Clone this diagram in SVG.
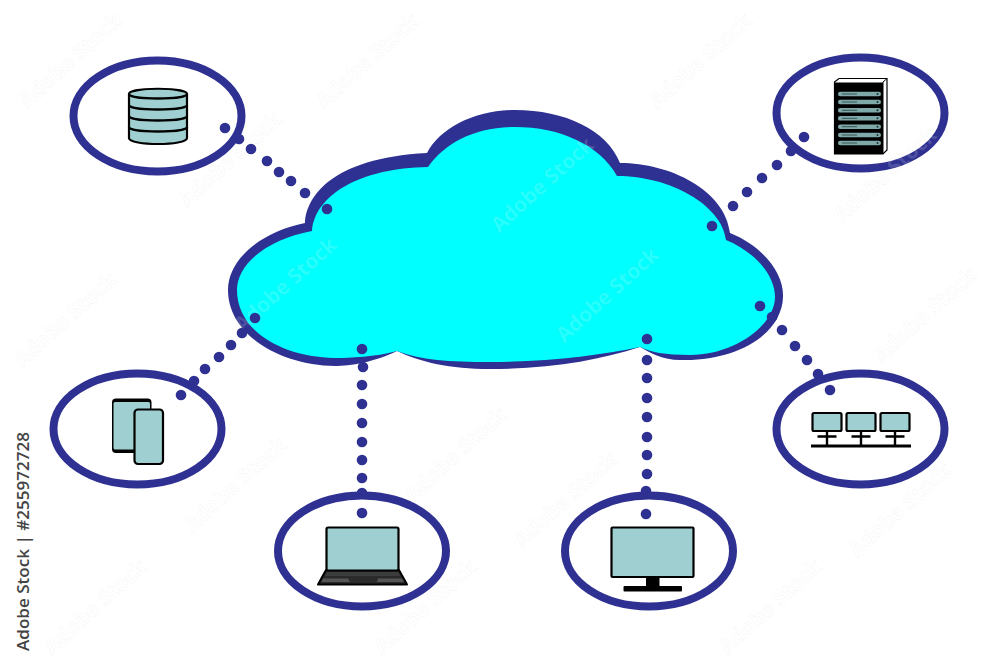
<svg xmlns="http://www.w3.org/2000/svg" width="1000" height="667" viewBox="0 0 1000 667">
<style>
.ring{fill:#fff;stroke:#2e3192;stroke-width:8}
.dot{fill:#2e3192}
.ic{fill:#9fcfd0;stroke:#000;stroke-width:2.200;stroke-linejoin:round}
.k{fill:#000}
.ln{stroke:#000;fill:none}
.slot{fill:#7fa8a8}
.stamp{font-family:"Open Sans","Liberation Sans",sans-serif;font-size:16px;font-weight:600;fill:#444}
.wm{font-family:"Open Sans","Liberation Sans",sans-serif;font-size:21px;font-weight:700;fill:#fff;fill-opacity:.16;stroke:#777;stroke-opacity:.06;stroke-width:1;text-anchor:middle}
</style>
<defs>
<circle id="d" r="5.300" class="dot"/>
<g id="scr">
<rect x="0" y="0" width="29" height="18" rx="1.500" class="ic"/>
<path d="M14.500 18V33M5 23.500H24" class="ln" stroke-width="2.400"/>
</g>
<g id="sl">
<rect x="838" y="0" width="43" height="4.600" rx="2.200" class="slot"/>
<path d="M842 2.300H857" stroke="#3d5556" stroke-width="1"/>
<circle cx="877.500" cy="2.300" r="1" fill="#203030"/>
</g>
</defs>
<rect width="1000" height="667" fill="#fff"/>
<g id="node-database">
<ellipse class="ring" cx="157.500" cy="116" rx="84" ry="55.500"/>
<path class="ic" d="M129 94C129 87 187 87 187 94V138C187 146 129 146 129 138Z"/>
<path class="ln" stroke-width="2.400" d="M129 94C129 100 187 100 187 94M129 105C129 111 187 111 187 105M129 116C129 122 187 122 187 116M129 127C129 133 187 133 187 127"/>
</g>
<g id="node-server">
<ellipse class="ring" cx="860.500" cy="113" rx="84" ry="55.500"/>
<path d="M834.500 82L839 78.500H887V150L883 154H834.500Z" fill="#fff" stroke="#000" stroke-width="1.200"/>
<path d="M883 82V154M883 82L887 78.500" stroke="#000" stroke-width="1"/>
<rect x="834.500" y="82.500" width="48.500" height="71.500" fill="#000"/>
<use href="#sl" y="91.700"/><use href="#sl" y="99.700"/><use href="#sl" y="108"/><use href="#sl" y="116"/><use href="#sl" y="124.400"/><use href="#sl" y="132.700"/><use href="#sl" y="140.700"/>
</g>
<g id="node-network">
<ellipse class="ring" cx="860.500" cy="429" rx="84" ry="55.500"/>
<use href="#scr" x="812.500" y="413"/><use href="#scr" x="846.500" y="413"/><use href="#scr" x="880.500" y="413"/>
<path d="M811 446H911" class="ln" stroke-width="2.800"/>
</g>
<g id="node-laptop">
<ellipse class="ring" cx="362" cy="551" rx="84" ry="55.500"/>
<path d="M326 570L318 584.500H407L399 570Z" fill="#2b2b2b" stroke="#000" stroke-width="2" stroke-linejoin="round"/>
<path d="M323 578.500H348L350 582H321.500ZM378 578.500H402L404 582H377Z" fill="#555"/>
<path d="M327 572H398L400 576H325Z" fill="#3c3c3c"/>
<rect x="326.500" y="527.500" width="72" height="43" rx="1.500" class="ic"/>
</g>
<g id="node-monitor">
<ellipse class="ring" cx="649" cy="551" rx="84" ry="55.500"/>
<rect x="646" y="577" width="13.500" height="10" class="k"/>
<rect x="623.500" y="586" width="58.500" height="5.500" rx="1" class="k"/>
<rect x="611.500" y="527.500" width="82" height="49.500" rx="1" class="ic"/>
</g>
<g id="node-phones">
<ellipse class="ring" cx="137.500" cy="429" rx="84" ry="55.500"/>
<rect x="112" y="398.500" width="39.500" height="54.500" rx="4" fill="#000"/>
<rect x="113.500" y="402" width="36.500" height="47.500" rx="1.500" fill="#9fcfd0"/>
<rect x="134.500" y="409.500" width="28.500" height="54.500" rx="3.500" class="ic"/>
</g>
<g id="node-cloud">
<path fill="#2e3192" d="M305 223C306 198 330 158 427 153C440 128 475 110 515 110C565 110 607 130 620 163C670 163 725 190 730 233C765 247 784 275 783 297C782 335 735 362 680 360C663 360 650 353 640 347C600 360 550 369 490 369C450 369 420 362 397 351C375 362 350 366 335 366C280 365 228 335 228 290C228 260 260 232 305 223Z"/>
<path fill="#00ffff" d="M312 231C315 195 360 168 428 167C445 143 475 127 515 127C560 127 600 145 617 176C670 176 722 205 726 240C755 252 775 275 775 297C775 325 735 355 690 355C665 355 650 352 640 347C600 355 550 362 490 362C450 362 420 360 397 351C375 357 350 358 335 358C280 357 237 330 237 290C237 265 265 240 312 231Z"/>
</g>
<g id="watermark">
<text class="wm" transform="translate(75 66) rotate(-42)">Adobe Stock</text>
<text class="wm" transform="translate(372 66) rotate(-42)">Adobe Stock</text>
<text class="wm" transform="translate(705 66) rotate(-42)">Adobe Stock</text>
<text class="wm" transform="translate(235 165) rotate(-42)">Adobe Stock</text>
<text class="wm" transform="translate(547 190) rotate(-42)">Adobe Stock</text>
<text class="wm" transform="translate(890 180) rotate(-42)">Adobe Stock</text>
<text class="wm" transform="translate(70 325) rotate(-42)">Adobe Stock</text>
<text class="wm" transform="translate(290 290) rotate(-42)">Adobe Stock</text>
<text class="wm" transform="translate(612 300) rotate(-42)">Adobe Stock</text>
<text class="wm" transform="translate(930 320) rotate(-42)">Adobe Stock</text>
<text class="wm" transform="translate(460 460) rotate(-42)">Adobe Stock</text>
<text class="wm" transform="translate(240 490) rotate(-42)">Adobe Stock</text>
<text class="wm" transform="translate(570 505) rotate(-42)">Adobe Stock</text>
<text class="wm" transform="translate(905 515) rotate(-42)">Adobe Stock</text>
<text class="wm" transform="translate(100 612) rotate(-42)">Adobe Stock</text>
<text class="wm" transform="translate(430 612) rotate(-42)">Adobe Stock</text>
<text class="wm" transform="translate(775 612) rotate(-42)">Adobe Stock</text>
</g>
<g id="connectors">
<use href="#d" x="225" y="128"/><use href="#d" x="239" y="139"/><use href="#d" x="251" y="149"/><use href="#d" x="267" y="161"/><use href="#d" x="279" y="172"/><use href="#d" x="291" y="181"/><use href="#d" x="305" y="193"/><use href="#d" x="327" y="209"/>
<use href="#d" x="804" y="137"/><use href="#d" x="791" y="151"/><use href="#d" x="777" y="165"/><use href="#d" x="762" y="178"/><use href="#d" x="747" y="192"/><use href="#d" x="733" y="206"/><use href="#d" x="712" y="226"/>
<use href="#d" x="760" y="306"/><use href="#d" x="772" y="317"/><use href="#d" x="782" y="330"/><use href="#d" x="795" y="346"/><use href="#d" x="807" y="360"/><use href="#d" x="818" y="374"/><use href="#d" x="830" y="390"/>
<use href="#d" x="647" y="339"/><use href="#d" x="647" y="360"/><use href="#d" x="647" y="378"/><use href="#d" x="647" y="398"/><use href="#d" x="647" y="417"/><use href="#d" x="647" y="437"/><use href="#d" x="647" y="455"/><use href="#d" x="647" y="474"/><use href="#d" x="646" y="491"/><use href="#d" x="646" y="514"/>
<use href="#d" x="362" y="349"/><use href="#d" x="363" y="367"/><use href="#d" x="362" y="385"/><use href="#d" x="362" y="404"/><use href="#d" x="362" y="423"/><use href="#d" x="362" y="442"/><use href="#d" x="362" y="460"/><use href="#d" x="362" y="478"/><use href="#d" x="362" y="493"/><use href="#d" x="362" y="513"/>
<use href="#d" x="181" y="395"/><use href="#d" x="194" y="381"/><use href="#d" x="205" y="369"/><use href="#d" x="219" y="357"/><use href="#d" x="231" y="345"/><use href="#d" x="242" y="333"/><use href="#d" x="255" y="318"/>
</g>
<text class="stamp" transform="translate(29 651) rotate(-90)" textLength="219" lengthAdjust="spacingAndGlyphs">Adobe Stock | #255972728</text>
</svg>
